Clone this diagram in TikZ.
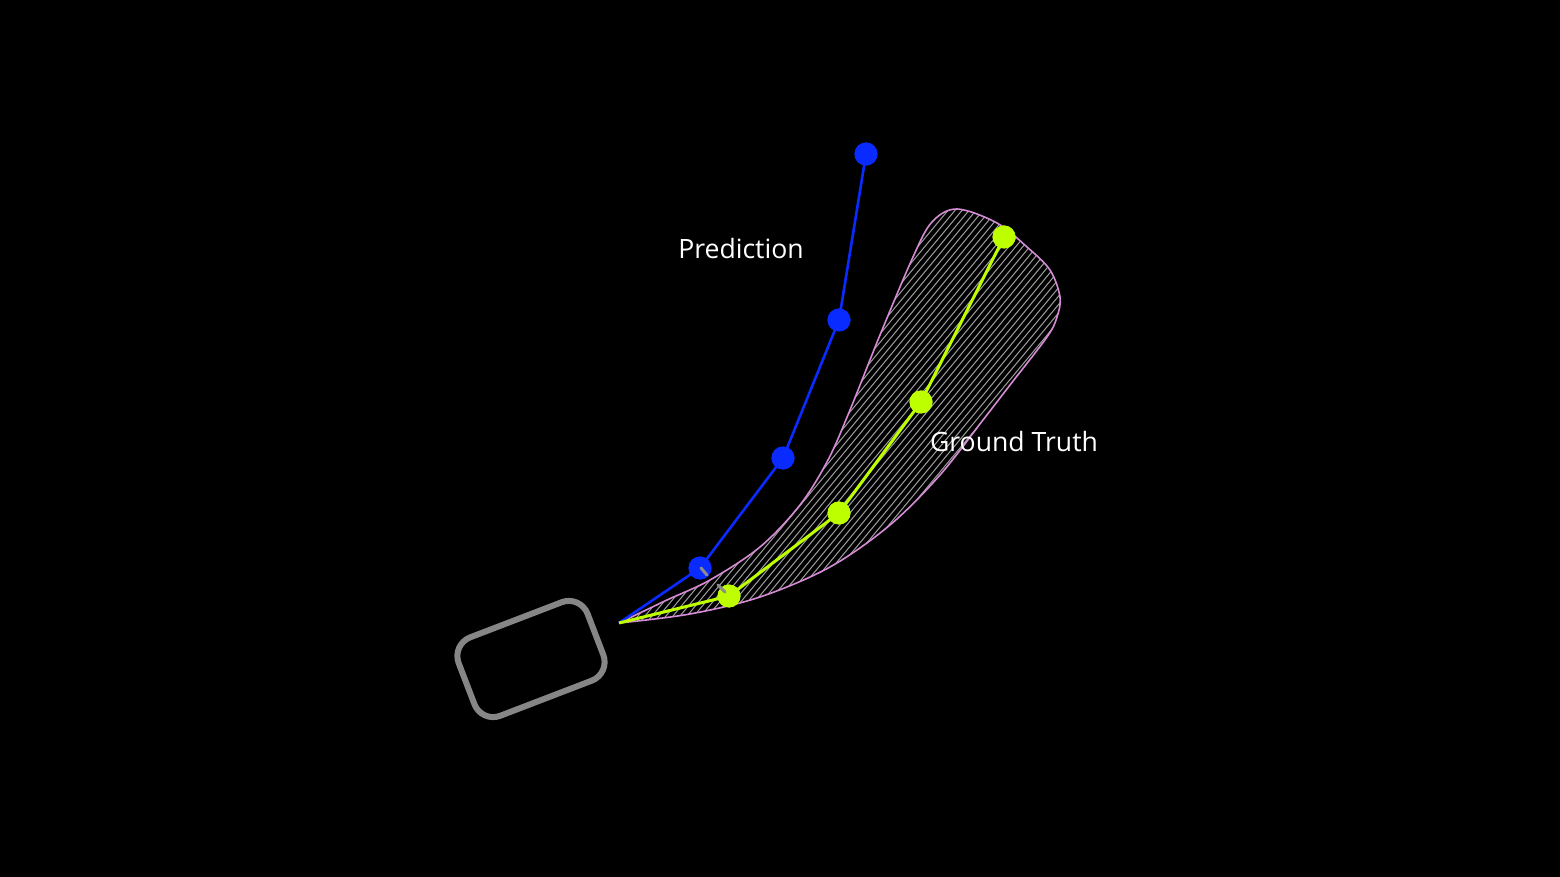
\documentclass[tikz,border=0pt]{standalone}
\usepackage{fontspec}
\setmainfont{Open Sans}
\begin{document}
\begin{tikzpicture}[x=0.5pt,y=-0.5pt,
  pred/.style={draw=predblue,line width=1.3pt},
  truth/.style={draw=truthgreen,line width=1.5pt},
  pdot/.style={circle,fill=predblue,minimum size=11.5pt,inner sep=0pt},
  tdot/.style={circle,fill=truthgreen,minimum size=11.5pt,inner sep=0pt},
  lbl/.style={text=white,font=\fontsize{13.3pt}{16pt}\selectfont,inner sep=0pt},
  stub/.style={draw=gray!90,line width=1.5pt,line cap=round}]
\definecolor{predblue}{HTML}{0A2BFF}
\definecolor{truthgreen}{HTML}{BEFF00}
\definecolor{zone}{HTML}{D68BD6}
\fill[black] (0,0) rectangle (1560,877);
\useasboundingbox (0,0) rectangle (1560,877);
\def\zonepath{plot[smooth,tension=0.55] coordinates {(619,623) (667,600) (710,580) (760,547) (800,505) (828,460) (850,410) (880,335) (913,257) (932,222) (957,209) (997,223) (1027,247) (1050,270) (1060,297) (1057,317) (1047,337) (1010,385) (983,420) (940,475) (890,525) (830,567) (760,597) (690,614) (619,623)}}
\begin{scope}
\clip \zonepath;
\foreach \c in {540,547,...,840} \draw[gray!75!white,line width=0.5pt] (\c,700) -- ++(500,-600);
\end{scope}
\draw[zone,line width=0.8pt] \zonepath;
% vehicle
\draw[gray!95,line width=3pt,rounded corners=10pt,rotate around={21:(531,659)}] (462,617) rectangle (600,701);
\coordinate (s) at (619,623);
\node[pdot] (p1) at (700,568) {};
\node[pdot] (p2) at (783,458) {};
\node[pdot] (p3) at (839,320) {};
\node[pdot] (p4) at (866,154) {};
\node[tdot] (t1) at (729,596) {};
\node[tdot] (t2) at (839,513) {};
\node[tdot] (t3) at (921,402) {};
\node[tdot] (t4) at (1004,237) {};
\draw[pred] (s) -- (p1.center) -- (p2.center) -- (p3.center) -- (p4.center);
\draw[truth] (s) -- (t1.center) -- (t2.center) -- (t3.center) -- (t4.center);
\foreach \n in {p1,p2,p3,p4} \node[pdot] at (\n) {};
\foreach \n in {t1,t2,t3,t4} \node[tdot] at (\n) {};
\coordinate (g1) at (707,575);
\coordinate (g2) at (718,585);
\coordinate (g3) at (725,592);
\draw[stub] (p1.center) ++(1,0) -- (g1);
\draw[stub] (g2) -- (g3);
\node[lbl] (pl) at (741,249) {Prediction};
\node[lbl] (gl) at (1014,442) {Ground Truth};
\end{tikzpicture}
\end{document}
